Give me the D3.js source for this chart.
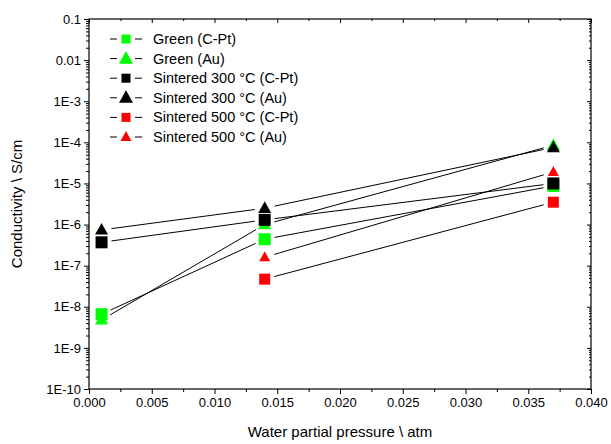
<!DOCTYPE html>
<html><head><meta charset="utf-8">
<script src="https://d3js.org/d3.v7.min.js"></script>
<style>body{margin:0;background:#fff}svg{display:block}text{font-family:"Liberation Sans",Arial,sans-serif}</style>
</head><body><svg id="c" width="611" height="444"></svg>
<script>
const pressures = [0.001, 0.014, 0.037];
const seriesNames = ["Green (C-Pt)", "Green (Au)", "Sintered 300 \u00B0C (C-Pt)", "Sintered 300 \u00B0C (Au)", "Sintered 500 \u00B0C (C-Pt)", "Sintered 500 \u00B0C (Au)"];
const greenCPt = [6.6e-9, 4.4e-7, 8.7e-6];
const greenAu = [4.8e-9, 1.0e-6, 8.5e-5];
const sint300CPt = [3.7e-7, 1.3e-6, 1.0e-5];
const sint300Au = [7.4e-7, 2.5e-6, 7.5e-5];
const sint500CPt = [null, 4.7e-8, 3.5e-6];
const sint500Au = [null, 1.6e-7, 1.9e-5];
const xTicks = [0, 0.005, 0.01, 0.015, 0.02, 0.025, 0.03, 0.035, 0.04];
const yTicks = [1e-1, 1e-2, 1e-3, 1e-4, 1e-5, 1e-6, 1e-7, 1e-8, 1e-9, 1e-10];
const yTickLabels = ["0.1", "0.01", "1E-3", "1E-4", "1E-5", "1E-6", "1E-7", "1E-8", "1E-9", "1E-10"];

const seriesStyle = [
  {fill: "#00ff00", shape: "square", size: 12, lsize: 9},
  {fill: "#00ff00", shape: "triangle", size: 13, lsize: 14},
  {fill: "#000000", shape: "square", size: 12, lsize: 9},
  {fill: "#000000", shape: "triangle", size: 13, lsize: 14},
  {fill: "#ff0000", shape: "square", size: 11, lsize: 9},
  {fill: "#ff0000", shape: "triangle", size: 11, lsize: 11}
];
const seriesValues = [greenCPt, greenAu, sint300CPt, sint300Au, sint500CPt, sint500Au];

const svg = d3.select("#c");
const L = 89, R = 591, T = 19, B = 389;
const x = d3.scaleLinear().domain([0, 0.04]).range([L, R]);
const y = d3.scaleLog().domain([1e-10, 0.1]).range([B, T]);

svg.append("rect").attr("x", L).attr("y", T).attr("width", R - L).attr("height", B - T)
  .attr("fill", "none").attr("stroke", "#000").attr("stroke-width", 1.2);

const xMinor = d3.range(0.0025, 0.04, 0.005);
const yMinor = [];
for (let e = -10; e < -1; e++) for (let m = 2; m <= 9; m++) yMinor.push(m * Math.pow(10, e));

const xAxis = d3.axisBottom(x).tickValues(xTicks).tickFormat(d3.format(".3f")).tickSize(5).tickPadding(4);
const gx = svg.append("g").attr("transform", `translate(0,${B})`).call(xAxis);
gx.select(".domain").remove();
gx.selectAll("text").attr("font-size", 13).attr("fill", "#000");
svg.append("g").attr("transform", `translate(0,${B})`)
  .call(d3.axisBottom(x).tickValues(xMinor).tickSize(3).tickFormat(""))
  .call(g => g.select(".domain").remove());

const yAxis = d3.axisLeft(y).tickValues(yTicks).tickFormat((d, i) => yTickLabels[i]).tickSize(5).tickPadding(3);
const gy = svg.append("g").attr("transform", `translate(${L},0)`).call(yAxis);
gy.select(".domain").remove();
gy.selectAll("text").attr("font-size", 13).attr("fill", "#000");
svg.append("g").attr("transform", `translate(${L},0)`)
  .call(d3.axisLeft(y).tickValues(yMinor).tickSize(3).tickFormat(""))
  .call(g => g.select(".domain").remove());

svg.append("g").attr("transform", `translate(0,${T})`)
  .call(d3.axisBottom(x).tickValues(xTicks).tickSize(4).tickFormat(""))
  .call(g => g.select(".domain").remove());
svg.append("g").attr("transform", `translate(0,${T})`)
  .call(d3.axisBottom(x).tickValues(xMinor).tickSize(2).tickFormat(""))
  .call(g => g.select(".domain").remove());
svg.append("g").attr("transform", `translate(${R},0)`)
  .call(d3.axisLeft(y).tickValues(yTicks).tickSize(4).tickFormat(""))
  .call(g => g.select(".domain").remove());
svg.append("g").attr("transform", `translate(${R},0)`)
  .call(d3.axisLeft(y).tickValues(yMinor).tickSize(2).tickFormat(""))
  .call(g => g.select(".domain").remove());

svg.append("text").attr("x", (L + R) / 2).attr("y", 437).attr("text-anchor", "middle")
  .attr("font-size", 15).text("Water partial pressure \\ atm");
svg.append("text").attr("transform", `translate(22,${(T + B) / 2}) rotate(-90)`).attr("text-anchor", "middle")
  .attr("font-size", 15).text("Conductivity \\ S/cm");

function marker(g, cx, cy, shape, fill, s) {
  if (shape === "square") {
    g.append("rect").attr("x", cx - s / 2).attr("y", cy - s / 2).attr("width", s).attr("height", s).attr("fill", fill);
  } else {
    const h = s * 0.9;
    g.append("path").attr("d", `M${cx},${cy - h * 0.6}L${cx + s / 2},${cy + h * 0.4}L${cx - s / 2},${cy + h * 0.4}Z`).attr("fill", fill);
  }
}

const gap = 10;
const plot = svg.append("g");
seriesValues.forEach((vals) => {
  const pts = pressures.map((p, i) => vals[i] == null ? null : [x(p), y(vals[i])]).filter(d => d);
  for (let i = 0; i < pts.length - 1; i++) {
    const [x1, y1] = pts[i], [x2, y2] = pts[i + 1];
    const dx = x2 - x1, dy = y2 - y1, len = Math.hypot(dx, dy);
    const ux = dx / len, uy = dy / len;
    plot.append("line").attr("x1", x1 + ux * gap).attr("y1", y1 + uy * gap)
      .attr("x2", x2 - ux * gap).attr("y2", y2 - uy * gap)
      .attr("stroke", "#000").attr("stroke-width", 1);
  }
});
[0, 1, 4, 5, 2, 3].forEach(si => {
  const st = seriesStyle[si];
  seriesValues[si].forEach((v, i) => {
    if (v == null) return;
    marker(plot, x(pressures[i]), y(v), st.shape, st.fill, st.size);
  });
});

const lg = svg.append("g");
seriesNames.forEach((name, i) => {
  const cy = 39 + i * 19.6;
  const st = seriesStyle[i];
  lg.append("line").attr("x1", 110).attr("x2", 117).attr("y1", cy).attr("y2", cy).attr("stroke", "#000");
  lg.append("line").attr("x1", 135).attr("x2", 142).attr("y1", cy).attr("y2", cy).attr("stroke", "#000");
  marker(lg, 126, cy, st.shape, st.fill, st.lsize);
  lg.append("text").attr("x", 153).attr("y", cy + 5).attr("font-size", 14.5).text(name);
});
</script></body></html>
